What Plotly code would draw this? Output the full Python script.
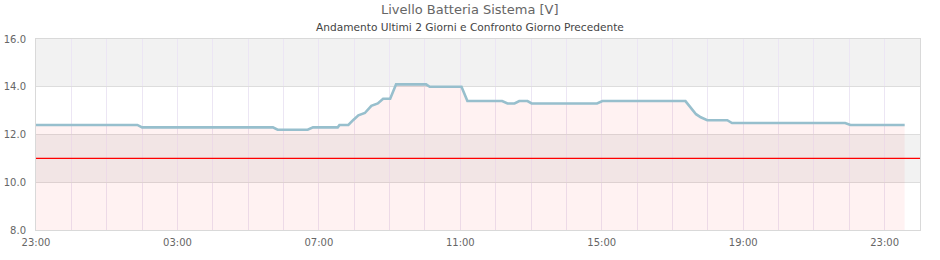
import plotly.graph_objects as go

# ---- data ----
times = [
    "2024-05-01 23:00", "2024-05-02 01:52", "2024-05-02 02:00", "2024-05-02 05:42",
    "2024-05-02 05:50", "2024-05-02 06:41", "2024-05-02 06:50", "2024-05-02 07:32",
    "2024-05-02 07:35", "2024-05-02 07:50", "2024-05-02 07:58", "2024-05-02 08:07",
    "2024-05-02 08:18", "2024-05-02 08:29", "2024-05-02 08:40", "2024-05-02 08:49",
    "2024-05-02 09:01", "2024-05-02 09:11", "2024-05-02 10:02", "2024-05-02 10:08",
    "2024-05-02 11:02", "2024-05-02 11:12", "2024-05-02 12:11", "2024-05-02 12:20",
    "2024-05-02 12:32", "2024-05-02 12:40", "2024-05-02 12:54", "2024-05-02 13:01",
    "2024-05-02 14:52", "2024-05-02 15:01", "2024-05-02 17:22", "2024-05-02 17:31",
    "2024-05-02 17:40", "2024-05-02 17:48", "2024-05-02 17:59", "2024-05-02 18:33",
    "2024-05-02 18:41", "2024-05-02 21:53", "2024-05-02 22:02", "2024-05-02 23:34",
]
voltage = [
    12.4, 12.4, 12.3, 12.3,
    12.2, 12.2, 12.3, 12.3,
    12.4, 12.4, 12.6, 12.8,
    12.9, 13.2, 13.3, 13.5,
    13.5, 14.1, 14.1, 14.0,
    14.0, 13.4, 13.4, 13.3,
    13.3, 13.4, 13.4, 13.3,
    13.3, 13.4, 13.4, 13.1,
    12.85, 12.72, 12.6, 12.6,
    12.48, 12.48, 12.4, 12.4,
]
threshold = 11.0
band_low = [10, 14]
band_high = [12, 16]
x_start = "2024-05-01 23:00"
x_end = "2024-05-03 00:00"
y_min, y_max = 8, 16

title_text = "Livello Batteria Sistema [V]"
subtitle_text = "Andamento Ultimi 2 Giorni e Confronto Giorno Precedente"

FONT = "DejaVu Sans"
fig = go.Figure()
fig.add_trace(go.Scatter(
    x=times, y=voltage, mode="lines",
    line=dict(color="#97bfcd", width=2.6),
    fill="tozeroy", fillcolor="rgba(255,0,0,0.05)",
    hoverinfo="skip", showlegend=False,
))

shapes = []
for lo, hi in zip(band_low, band_high):
    shapes.append(dict(type="rect", xref="paper", x0=0, x1=1, yref="y", y0=lo, y1=hi,
                       fillcolor="#f2f2f2", line=dict(width=0), layer="below"))
shapes.append(dict(type="line", xref="paper", x0=0, x1=1, yref="y", y0=threshold, y1=threshold,
                   line=dict(color="#ff0000", width=1.3), layer="above"))

H = 3600000
fig.update_layout(
    width=940, height=260,
    margin=dict(l=35.5, r=20, t=39, b=30),
    paper_bgcolor="white", plot_bgcolor="white",
    font=dict(family=FONT, color="#666666", size=10),
    shapes=shapes,
    showlegend=False,
    annotations=[
        dict(text=title_text, xref="paper", yref="paper", x=0.4912, y=1.1536,
             xanchor="center", yanchor="middle", showarrow=False,
             font=dict(family=FONT, size=13, color="#666666")),
        dict(text=subtitle_text, xref="paper", yref="paper", x=0.4912, y=1.0645,
             xanchor="center", yanchor="middle", showarrow=False,
             font=dict(family=FONT, size=10.6, color="#444444")),
    ],
    xaxis=dict(
        type="date", range=[x_start, x_end], automargin=False,
        tick0=x_start, dtick=4 * H, tickformat="%H:%M",
        showgrid=True, gridcolor="#ece6f4", gridwidth=1,
        minor=dict(tick0=x_start, dtick=H, showgrid=True, gridcolor="#ece6f4", gridwidth=1),
        showline=True, linecolor="#d9d9d9", linewidth=1, mirror=True,
        ticks="outside", ticklen=3, tickcolor="rgba(0,0,0,0)", zeroline=False,
        tickfont=dict(family=FONT, size=10, color="#666666"),
    ),
    yaxis=dict(
        range=[y_min, y_max], dtick=2, tick0=0, tickformat=".1f", automargin=False,
        showgrid=True, gridcolor="#dddddd", gridwidth=1,
        showline=True, linecolor="#d9d9d9", linewidth=1, mirror=True,
        ticks="outside", ticklen=7, tickcolor="rgba(0,0,0,0)", zeroline=False,
        tickfont=dict(family=FONT, size=10, color="#666666"),
    ),
)

fig.write_html("out.html")
